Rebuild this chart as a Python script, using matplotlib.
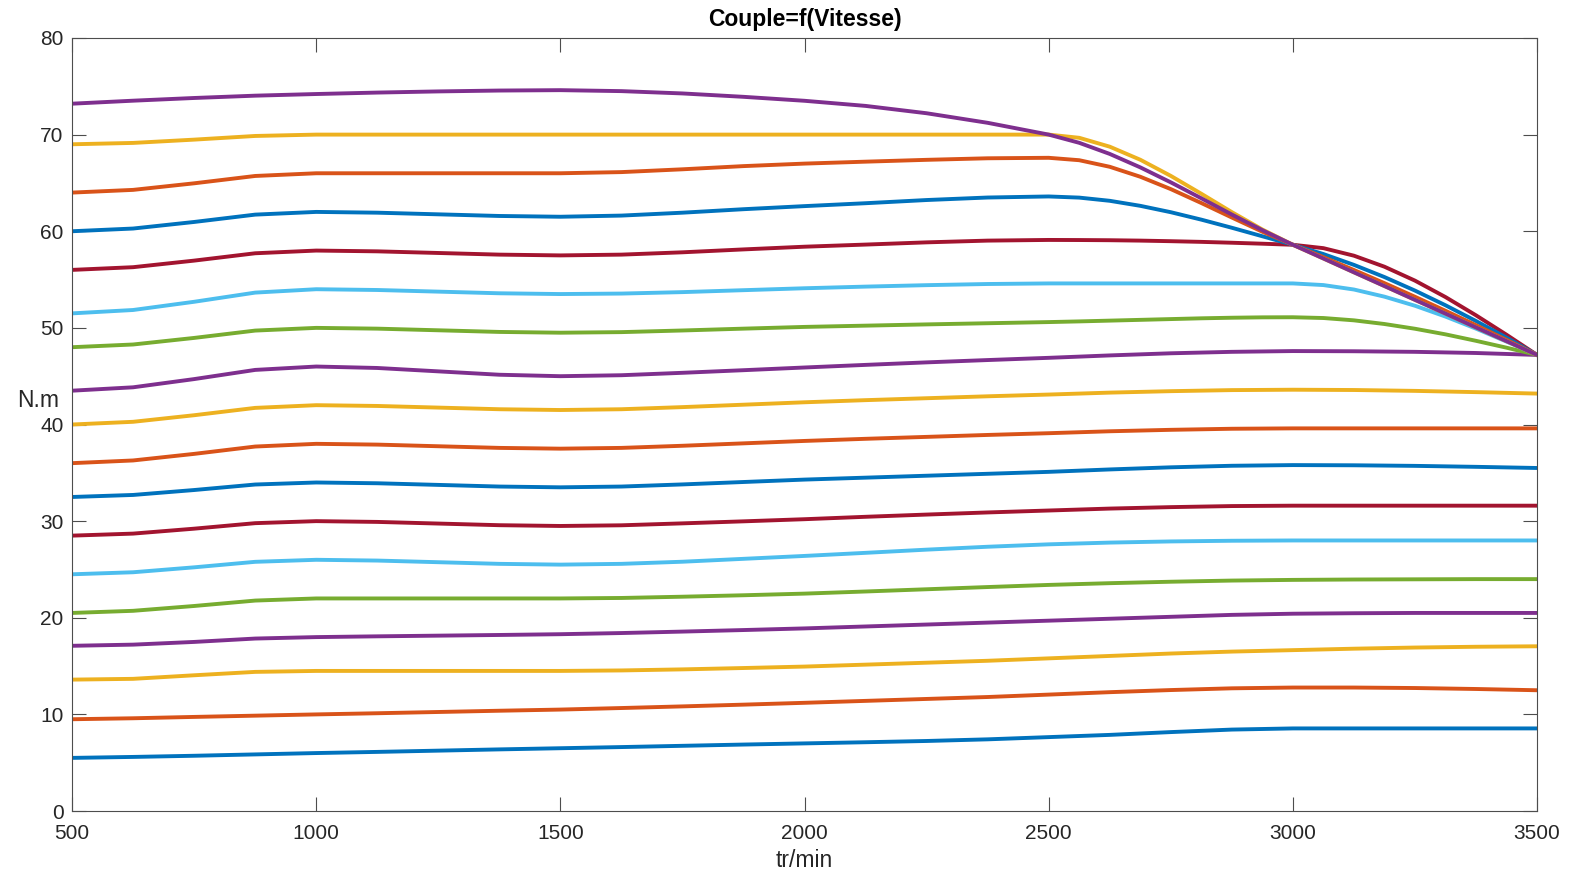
import matplotlib
matplotlib.use('Agg')
import matplotlib.pyplot as plt

plt.rcParams['font.family'] = ['Liberation Sans', 'DejaVu Sans']

# vitesse (tr/min), one reading every 125 tr/min
vitesse = [500, 625, 750, 875, 1000, 1125, 1250, 1375, 1500, 1625, 1750, 1875, 2000,
           2125, 2250, 2375, 2500, 2625, 2750, 2875, 3000, 3125, 3250, 3375, 3500]
# upper curves bend hard after 2500: finer readings there
vitesse_haut = [500, 625, 750, 875, 1000, 1125, 1250, 1375, 1500, 1625, 1750, 1875, 2000,
                2125, 2250, 2375, 2500, 2562.5, 2625, 2687.5, 2750, 2812.5, 2875, 2937.5,
                3000, 3062.5, 3125, 3187.5, 3250, 3312.5, 3375, 3437.5, 3500]

# couple (N.m), bottom curve first
couple_1 = [5.5, 5.6, 5.72, 5.86, 6.0, 6.12, 6.25, 6.38, 6.5, 6.62, 6.75, 6.88, 7.0,
            7.12, 7.25, 7.42, 7.65, 7.88, 8.17, 8.43, 8.55, 8.55, 8.55, 8.55, 8.55]
couple_2 = [9.5, 9.6, 9.74, 9.87, 10.0, 10.12, 10.25, 10.38, 10.5, 10.66, 10.83, 11.01, 11.2,
            11.4, 11.6, 11.8, 12.05, 12.3, 12.52, 12.7, 12.78, 12.78, 12.73, 12.63, 12.5]
couple_3 = [13.6, 13.68, 14.05, 14.4, 14.5, 14.5, 14.5, 14.5, 14.5, 14.55, 14.66, 14.8, 14.95,
            15.15, 15.35, 15.55, 15.8, 16.05, 16.3, 16.5, 16.65, 16.8, 16.92, 17.0, 17.05]
couple_4 = [17.1, 17.22, 17.5, 17.85, 18.0, 18.08, 18.15, 18.22, 18.3, 18.42, 18.57, 18.73, 18.9,
            19.1, 19.3, 19.5, 19.7, 19.9, 20.1, 20.3, 20.42, 20.47, 20.5, 20.5, 20.5]
couple_5 = [20.5, 20.72, 21.22, 21.78, 22.0, 22.0, 22.0, 22.0, 22.0, 22.05, 22.18, 22.33, 22.5,
            22.72, 22.95, 23.18, 23.4, 23.58, 23.73, 23.85, 23.92, 23.96, 23.98, 24.0, 24.0]
couple_6 = [24.5, 24.71, 25.22, 25.79, 26.0, 25.92, 25.75, 25.58, 25.5, 25.58, 25.8, 26.1, 26.4,
            26.72, 27.05, 27.35, 27.6, 27.78, 27.9, 27.97, 28.0, 28.0, 28.0, 28.0, 28.0]
couple_7 = [28.5, 28.71, 29.22, 29.79, 30.0, 29.92, 29.75, 29.58, 29.5, 29.57, 29.77, 29.98, 30.2,
            30.45, 30.68, 30.9, 31.1, 31.3, 31.45, 31.56, 31.6, 31.6, 31.6, 31.6, 31.6]
couple_8 = [32.5, 32.71, 33.22, 33.79, 34.0, 33.92, 33.75, 33.58, 33.5, 33.58, 33.8, 34.05, 34.3,
            34.5, 34.7, 34.9, 35.1, 35.35, 35.57, 35.73, 35.8, 35.78, 35.72, 35.62, 35.5]
couple_9 = [36.0, 36.28, 36.96, 37.72, 38.0, 37.92, 37.75, 37.58, 37.5, 37.58, 37.8, 38.05, 38.3,
            38.52, 38.72, 38.92, 39.1, 39.3, 39.45, 39.56, 39.6, 39.6, 39.6, 39.6, 39.6]
couple_10 = [40.0, 40.28, 40.96, 41.72, 42.0, 41.92, 41.75, 41.58, 41.5, 41.58, 41.8, 42.05, 42.3,
             42.52, 42.72, 42.92, 43.1, 43.3, 43.45, 43.56, 43.6, 43.57, 43.48, 43.35, 43.2]
couple_11 = [43.5, 43.85, 44.7, 45.65, 46.0, 45.85, 45.5, 45.15, 45.0, 45.1, 45.35, 45.62, 45.9,
             46.17, 46.43, 46.67, 46.9, 47.15, 47.37, 47.52, 47.6, 47.58, 47.52, 47.4, 47.2]

couple_12 = [48.0, 48.28, 48.96, 49.72, 50.0, 49.92, 49.75, 49.58, 49.5, 49.56, 49.73, 49.92, 50.1,
             50.23, 50.36, 50.48, 50.6, 50.67, 50.75, 50.83, 50.91, 50.99, 51.05, 51.09,
             51.1, 51.02, 50.78, 50.4, 49.91, 49.33, 48.66, 47.95, 47.2]
couple_13 = [51.5, 51.85, 52.7, 53.65, 54.0, 53.92, 53.75, 53.58, 53.5, 53.55, 53.7, 53.9, 54.1,
             54.27, 54.42, 54.54, 54.6, 54.6, 54.6, 54.6, 54.6, 54.6, 54.6, 54.6,
             54.6, 54.43, 53.97, 53.23, 52.29, 51.17, 49.92, 48.58, 47.2]
couple_14 = [56.0, 56.28, 56.96, 57.72, 58.0, 57.92, 57.75, 57.58, 57.5, 57.58, 57.82, 58.12, 58.4,
             58.62, 58.85, 59.03, 59.1, 59.09, 59.07, 59.03, 58.97, 58.9, 58.81, 58.71,
             58.6, 58.25, 57.47, 56.33, 54.89, 53.19, 51.3, 49.29, 47.2]
couple_15 = [60.0, 60.28, 60.96, 61.72, 62.0, 61.92, 61.75, 61.58, 61.5, 61.62, 61.92, 62.28, 62.6,
             62.9, 63.23, 63.49, 63.6, 63.48, 63.15, 62.63, 61.97, 61.2, 60.36, 59.48,
             58.6, 57.64, 56.52, 55.26, 53.86, 52.34, 50.71, 48.99, 47.2]
couple_16 = [64.0, 64.28, 64.96, 65.72, 66.0, 66.0, 66.0, 66.0, 66.0, 66.12, 66.41, 66.74, 67.0,
             67.2, 67.39, 67.55, 67.6, 67.35, 66.67, 65.64, 64.36, 62.92, 61.42, 59.95,
             58.6, 57.32, 55.99, 54.63, 53.22, 51.77, 50.28, 48.76, 47.2]
couple_17 = [69.0, 69.14, 69.48, 69.86, 70.0, 70.0, 70.0, 70.0, 70.0, 70.0, 70.0, 70.0, 70.0,
             70.0, 70.0, 70.0, 70.0, 69.67, 68.75, 67.4, 65.73, 63.88, 61.98, 60.18,
             58.6, 57.18, 55.75, 54.33, 52.9, 51.48, 50.05, 48.63, 47.2]
couple_18 = [73.2, 73.51, 73.79, 74.03, 74.2, 74.35, 74.47, 74.56, 74.6, 74.5, 74.26, 73.91, 73.5,
             72.97, 72.21, 71.22, 70.0, 69.15, 68.0, 66.61, 65.06, 63.41, 61.73, 60.11,
             58.6, 57.18, 55.75, 54.33, 52.9, 51.48, 50.05, 48.63, 47.2]

# matlab default colour order
couleurs = ['#0072BD', '#D95319', '#EDB120', '#7E2F8E', '#77AC30', '#4DBEEE', '#A2142F']

courbes_bas = [couple_1, couple_2, couple_3, couple_4, couple_5, couple_6, couple_7, couple_8,
               couple_9, couple_10, couple_11]
courbes_haut = [couple_12, couple_13, couple_14, couple_15, couple_16, couple_17, couple_18]

fig = plt.figure(figsize=(15.7, 8.75), dpi=100)
ax = fig.add_axes([0.0459, 0.0731, 0.9331, 0.8835])

n = 0
for c in courbes_bas:
	ax.plot(vitesse, c, color=couleurs[n % 7], linewidth=2.8, solid_joinstyle='round')
	n += 1
for c in courbes_haut:
	ax.plot(vitesse_haut, c, color=couleurs[n % 7], linewidth=2.8, solid_joinstyle='round')
	n += 1

ax.set_xlim(500, 3500)
ax.set_ylim(0, 80)
ax.set_xticks(range(500, 3501, 500))
ax.set_yticks(range(0, 81, 10))

gris = '#262626'
for s in ax.spines.values():
	s.set_color('#4d4d4d')
	s.set_linewidth(0.8)
ax.tick_params(direction='in', length=10, width=0.8, color='#4d4d4d', labelcolor=gris,
               labelsize=15, top=True, right=True, pad=6)
ax.tick_params(axis='x', pad=9)

ax.set_title('Couple=f(Vitesse)', fontsize=16.5, fontweight='bold', color='black',
             y=1.024, va='center', pad=0)
ax.set_xlabel('tr/min', fontsize=16.5, color=gris, va='center')
ax.xaxis.set_label_coords(0.5, -0.064)
# matlab puts N.m right on top of the 40 label; lifted a little
ax.set_ylabel('N.m', fontsize=16.5, color=gris, rotation=0, ha='center', va='center')
ax.yaxis.set_label_coords(-0.023, 0.531)

fig.savefig('out.png', dpi=100)
plt.close()
